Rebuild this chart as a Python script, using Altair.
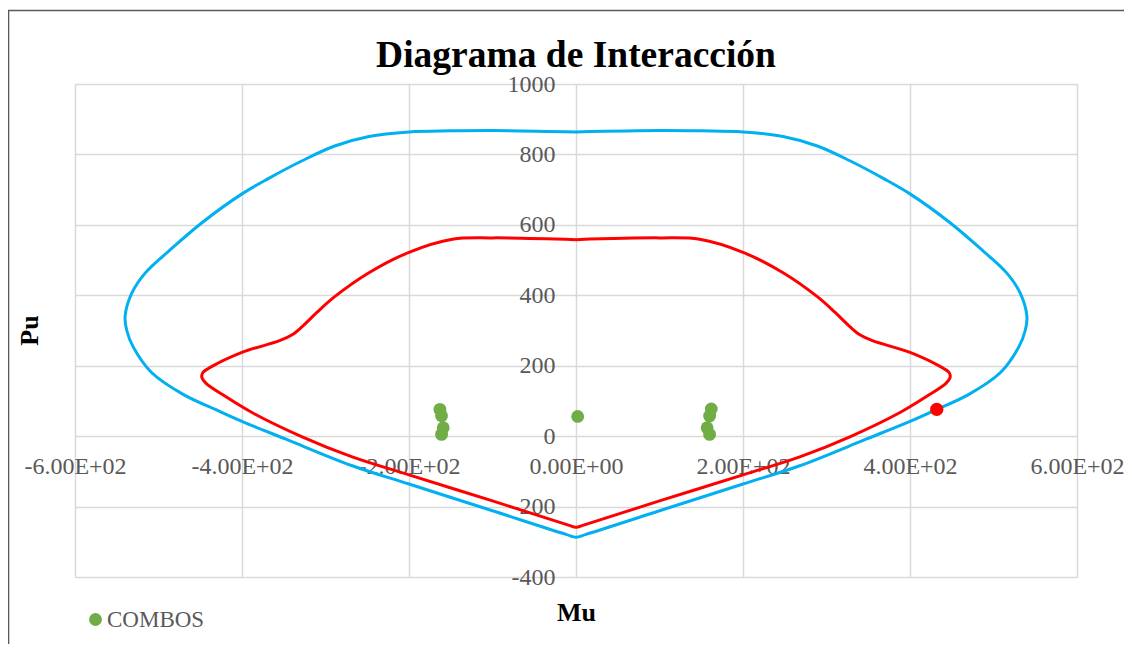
import altair as alt
import pandas as pd

# ---- data ----
blue_m = [0, 100, 150, 200, 248, 289, 328, 368, 400, 448, 487, 516, 532, 540, 538, 530, 508, 470, 432, 400,
          348, 268, 200, 100, 12, 0,
          -12, -100, -200, -268, -348, -400, -432, -470, -508, -530, -538, -540, -532, -516, -487, -448,
          -400, -368, -328, -289, -248, -200, -150, -100, 0]
blue_p = [864, 868, 867, 864, 851, 824, 782, 732, 688, 606, 527, 463, 406, 340, 300, 252, 180, 118, 76, 42,
          -8, -84, -136, -212, -279, -287,
          -279, -212, -136, -84, -8, 42, 76, 118, 180, 252, 300, 340, 406, 463, 527, 606,
          688, 732, 782, 824, 851, 864, 867, 868, 864]

red_m = [0, 100, 148, 200, 248, 289, 310, 328, 340, 355, 400, 436, 447, 448, 443, 420, 388, 328, 268, 200,
         100, 10, 0,
         -10, -100, -200, -268, -328, -388, -420, -443, -448, -447, -436, -400, -355, -340, -328, -310, -289,
         -248, -200, -148, -100, 0]
red_p = [558, 563, 559, 522, 464, 396, 352, 311, 288, 271, 238, 198, 180, 166, 150, 113, 67, -2, -59, -110,
         -184, -252, -259,
         -252, -184, -110, -59, -2, 67, 113, 150, 166, 180, 198, 238, 271, 288, 311, 352, 396,
         464, 522, 559, 563, 558]

combo_m = [-163, -161, -159, -161, 2, 162, 160, 157, 160]
combo_p = [76, 58, 24, 5, 56, 77, 57, 24, 5]

point_m = [432]
point_p = [76]

x_ticks = [-600, -400, -200, 0, 200, 400, 600]
y_ticks = [-400, -200, 0, 200, 400, 600, 800, 1000]

FONT = "Liberation Serif"
GRAY = "#595959"
GRID = "#d9d9d9"

blue_df = pd.DataFrame({"Mu": blue_m, "Pu": blue_p, "i": list(range(len(blue_m)))})
red_df = pd.DataFrame({"Mu": red_m, "Pu": red_p, "i": list(range(len(red_m)))})
combo_df = pd.DataFrame({"Mu": combo_m, "Pu": combo_p, "serie": ["COMBOS"] * len(combo_m)})
point_df = pd.DataFrame({"Mu": point_m, "Pu": point_p})

x_axis = alt.Axis(
    values=x_ticks, title="Mu",
    labelExpr="(datum.value < 0 ? '-' : '') + format(abs(datum.value) / 100, '.2f') + (datum.value == 0 ? 'E+00' : 'E+02')",
    offset=-140.4, grid=True, gridColor=GRID, gridWidth=1.5, domain=False, ticks=False,
    labelPadding=18, labelFont=FONT, labelFontSize=24, labelColor=GRAY,
    labelFlush=False, labelOverlap=False,
    titleFont=FONT, titleFontSize=26, titleFontWeight="bold", titleColor="black",
    titleX=501, titleY=184, titleBaseline="alphabetic", titleAlign="center",
)
y_axis = alt.Axis(
    values=y_ticks, title="Pu",
    labelExpr="(datum.value < 0 ? '-' : '') + abs(datum.value)",
    offset=-501, grid=True, gridColor=GRID, gridWidth=1.5, domain=False, ticks=False,
    labelPadding=21, labelFont=FONT, labelFontSize=24, labelColor=GRAY,
    labelFlush=False, labelOverlap=False,
    titleFont=FONT, titleFontSize=26, titleFontWeight="bold", titleColor="black",
    titleX=-539, titleY=246, titleAngle=270, titleBaseline="alphabetic", titleAlign="center",
)

x_enc = alt.X("Mu:Q", scale=alt.Scale(domain=[-600, 600], nice=False, zero=False), axis=x_axis)
y_enc = alt.Y("Pu:Q", scale=alt.Scale(domain=[-400, 1000], nice=False, zero=False), axis=y_axis)

blue = alt.Chart(blue_df).mark_line(color="#00B0F0", strokeWidth=3, interpolate="catmull-rom").encode(
    x=x_enc, y=y_enc, order=alt.Order("i:Q"))
red = alt.Chart(red_df).mark_line(color="#FF0000", strokeWidth=3, interpolate="catmull-rom").encode(
    x=x_enc, y=y_enc, order=alt.Order("i:Q"))
combos = alt.Chart(combo_df).mark_circle(size=165, opacity=1).encode(
    x=x_enc, y=y_enc,
    color=alt.Color("serie:N", scale=alt.Scale(domain=["COMBOS"], range=["#70AD47"]),
                    legend=alt.Legend(title=None, orient="none", legendX=9, legendY=524,
                                      symbolType="circle", symbolSize=165, symbolStrokeWidth=0,
                                      labelFont=FONT, labelFontSize=23, labelColor=GRAY,
                                      labelOffset=0, padding=0)))
dot = alt.Chart(point_df).mark_circle(size=180, opacity=1, color="#FF0000").encode(x=x_enc, y=y_enc)

frame = alt.Chart(pd.DataFrame({"a": [0]})).mark_rect(
    fill="transparent", stroke="#595959", strokeWidth=1.6).encode(
    x=alt.value(-66.5), x2=alt.value(1200), y=alt.value(-73.5), y2=alt.value(800))

chart = alt.layer(blue, red, combos, dot, frame).properties(
    width=1002, height=493,
    title=alt.TitleParams("Diagrama de Interacción", font=FONT, fontSize=37.5, fontWeight="bold",
                          color="black", anchor="middle", frame="group", baseline="alphabetic",
                          offset=-94.5),
    autosize=alt.AutoSizeParams(type="none"),
    padding={"left": 67, "top": 76, "right": 47, "bottom": 67},
    background="white",
).configure_view(stroke="transparent")

chart.save("out.html", embed_options={"renderer": "svg", "actions": False})
